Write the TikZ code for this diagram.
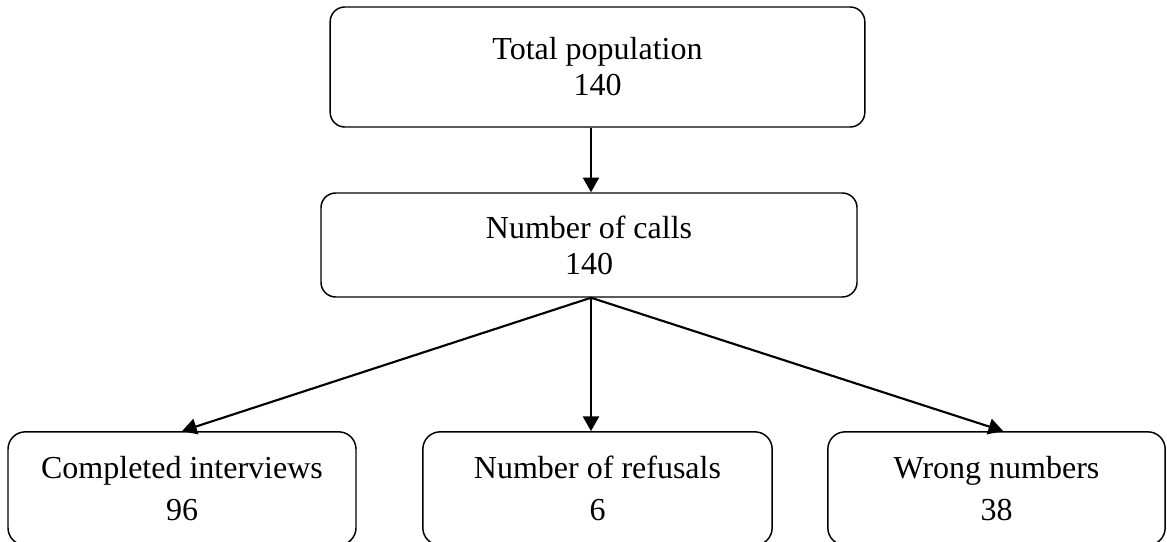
\documentclass[tikz,border=0pt]{standalone}
\usepackage{fontspec}
\setmainfont{Liberation Serif}
\usetikzlibrary{arrows.meta}

\begin{document}
\begin{tikzpicture}[x=0.75pt,y=-0.75pt,>={Triangle[length=11pt,width=12pt]},
                    line width=1.1pt,
                    box/.style={draw,rounded corners=11pt,align=center,inner sep=0pt,
                                font=\fontsize{24}{27}\selectfont},
                    leaf/.style={box,rounded corners=13pt,minimum height=85pt,
                                 font=\fontsize{24}{32}\selectfont}]
  \useasboundingbox (0,0) rectangle (1167,542);

  \node[box,minimum width=401pt,minimum height=90pt] (pop)   at (597.5,67)  {Total population\\140};
  \node[box,minimum width=402pt,minimum height=78pt] (calls) at (589,245)   {Number of calls\\140};
  \node[leaf,minimum width=261pt]                    (done)  at (182,488.5) {Completed interviews\\96};
  \node[leaf,minimum width=262pt]                    (refus) at (597.5,488.5) {Number of refusals\\6};
  \node[leaf,minimum width=253pt]                    (wrong) at (996.5,488.5) {Wrong numbers\\38};

  \coordinate (split) at (calls.south -| 591,0);

  \path[->,line width=1.6pt]
        (pop.south -| split)   edge (calls.north -| split)
        (split)                edge (done.north)
                               edge (refus.north -| split)
                               edge ([xshift=5pt]wrong.north);
\end{tikzpicture}
\end{document}
